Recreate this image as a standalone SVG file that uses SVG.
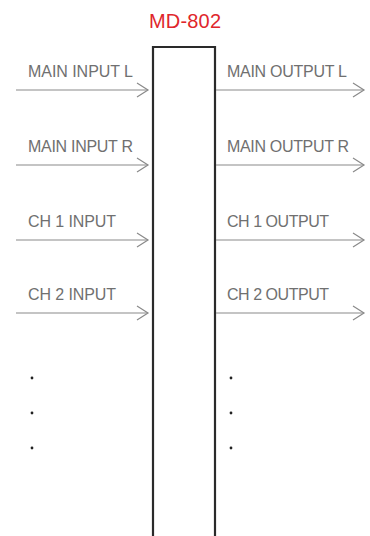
<svg xmlns="http://www.w3.org/2000/svg" width="370" height="536" viewBox="0 0 370 536">
<defs>
<style>
.lbl{font-family:"Liberation Sans",Arial,sans-serif;font-size:16px;fill:#707070}
.title{font-family:"Liberation Sans",Arial,sans-serif;font-size:20px;fill:#e0262c}
.ln{stroke:#8a8a8a;stroke-width:1.2;fill:none}
.box{stroke:#2a2a2a;stroke-width:2.2;fill:none}
.dot{fill:#222}
</style>
<marker id="chev" markerWidth="14" markerHeight="16" refX="12" refY="8" orient="auto" markerUnits="userSpaceOnUse">
<path d="M1,1 L12,8 L1,15" fill="none" stroke="#8a8a8a" stroke-width="1.2"/>
</marker>
</defs>
<rect width="370" height="536" fill="#fff"/>
<g id="md802">
<path class="box" d="M153,537 V47 H215 V537"/>
<text class="title" x="185" y="27.5" text-anchor="middle" textLength="72">MD-802</text>
</g>
<g id="connectors">
<line class="ln" x1="16" y1="90" x2="148" y2="90" marker-end="url(#chev)"/>
<line class="ln" x1="216" y1="90" x2="364" y2="90" marker-end="url(#chev)"/>
<line class="ln" x1="16" y1="165" x2="148" y2="165" marker-end="url(#chev)"/>
<line class="ln" x1="216" y1="165" x2="364" y2="165" marker-end="url(#chev)"/>
<line class="ln" x1="16" y1="240" x2="148" y2="240" marker-end="url(#chev)"/>
<line class="ln" x1="216" y1="240" x2="364" y2="240" marker-end="url(#chev)"/>
<line class="ln" x1="16" y1="313" x2="148" y2="313" marker-end="url(#chev)"/>
<line class="ln" x1="216" y1="313" x2="364" y2="313" marker-end="url(#chev)"/>
</g>
<g id="labels">
<text class="lbl" x="28" y="77" textLength="105">MAIN INPUT L</text>
<text class="lbl" x="227" y="77" textLength="120">MAIN OUTPUT L</text>
<text class="lbl" x="28" y="152" textLength="105">MAIN INPUT R</text>
<text class="lbl" x="227" y="152" textLength="122">MAIN OUTPUT R</text>
<text class="lbl" x="28" y="226.5" textLength="88">CH 1 INPUT</text>
<text class="lbl" x="227" y="226.5" textLength="102">CH 1 OUTPUT</text>
<text class="lbl" x="28" y="300" textLength="88">CH 2 INPUT</text>
<text class="lbl" x="227" y="300" textLength="102">CH 2 OUTPUT</text>
</g>
<g id="ellipsis">
<circle class="dot" cx="32" cy="378" r="1.4"/>
<circle class="dot" cx="32" cy="413" r="1.4"/>
<circle class="dot" cx="32" cy="448" r="1.4"/>
<circle class="dot" cx="231" cy="378" r="1.4"/>
<circle class="dot" cx="231" cy="413" r="1.4"/>
<circle class="dot" cx="231" cy="448" r="1.4"/>
</g>
</svg>
